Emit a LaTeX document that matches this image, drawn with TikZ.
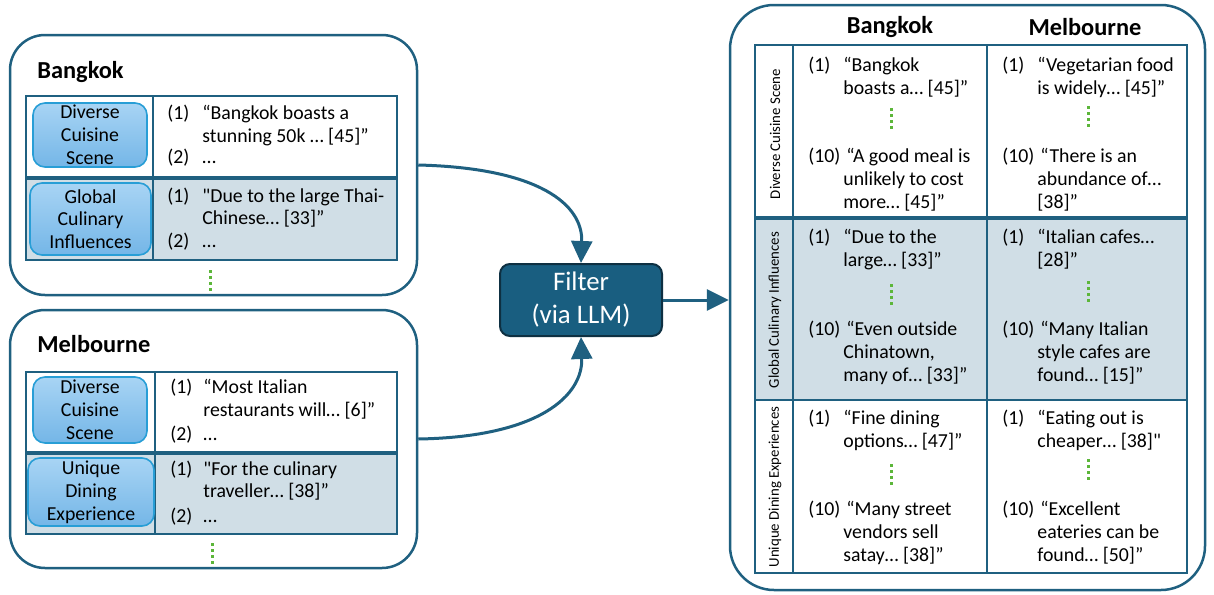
\documentclass[tikz,border=0pt]{standalone}
\usepackage{fontspec}
\setmainfont{Carlito}[Ligatures=TeXOff]
\usetikzlibrary{arrows.meta}

\definecolor{frame}{RGB}{31,96,128}
\definecolor{rowfill}{RGB}{208,222,230}
\definecolor{tagtop}{RGB}{168,212,244}
\definecolor{tagbot}{RGB}{116,182,231}
\definecolor{tagline}{RGB}{40,158,214}
\definecolor{dotgreen}{RGB}{92,182,58}
\definecolor{filterfill}{RGB}{25,94,128}
\definecolor{filterline}{RGB}{14,48,66}

\newcommand\txtsize{\fontsize{9.9}{11.4}\selectfont}

\tikzset{
  cityframe/.style={draw=frame,line width=1.25pt,rounded corners=17.5pt,inner sep=0pt},
  cityname/.style={font=\fontsize{12.2}{14}\selectfont\bfseries,inner sep=0pt},
  tabline/.style={draw=frame,line width=1pt},
  tag/.style={draw=tagline,line width=0.8pt,rounded corners=6pt,top color=tagtop,bottom color=tagbot,align=center,font=\txtsize,inner sep=0pt},
  entry/.style={anchor=north west,inner sep=0pt,align=left,font=\txtsize},
  vdots/.style={draw=dotgreen,line width=1.5pt,dash pattern=on 1.5pt off 1.5pt},
  sidelabel/.style={rotate=90,font=\fontsize{7.4}{9}\selectfont,inner sep=0pt},
  flow/.style={draw=frame,line width=1.5pt,-{Triangle[length=11pt,width=10.5pt]}},
}

\begin{document}
\begin{tikzpicture}[x=0.5pt,y=-0.5pt]
    \useasboundingbox (0,0) rectangle (1214,594);

    % Bangkok
    \node[cityframe,minimum width=203.5pt,minimum height=130pt] (bkk) at (213.5,165) {};
    \node[cityname,anchor=west] (bkkname) at (37,72) {Bangkok};
    \fill[rowfill] (26,178) rectangle (397,260);
    \draw[tabline] (26,96) rectangle (397,260);
    \draw[tabline] (153,96) -- (153,260);
    \draw[tabline,line width=2pt] (26,178) -- (397,178);
    \node[tag,minimum width=57pt,minimum height=32pt] (bkkdiv) at (90,135) {Diverse\\Cuisine\\Scene};
    \node[tag,minimum width=60.5pt,minimum height=36pt] (bkkglob) at (90.5,219) {Global\\Culinary\\Influences};
    \node[entry] (bkkdivn) at (167,105) {(1)};
    \node[entry] (bkkdivq) at (202,105) {“Bangkok boasts a\\stunning 50k … [45]”};
    \node[entry] (bkkdivm) at (167,149) {(2)};
    \node[entry] (bkkdivr) at (202,149) {\vphantom{(}…};
    \node[entry] (bkkglobn) at (167,188) {(1)};
    \node[entry] (bkkglobq) at (202,188) {"Due to the large Thai-\\Chinese… [33]”};
    \node[entry] (bkkglobm) at (167,233) {(2)};
    \node[entry] (bkkglobr) at (202,233) {\vphantom{(}…};
    \draw[vdots] (210,270) -- (210,291);

    % Melbourne
    \node[cityframe,minimum width=203.5pt,minimum height=129pt] (mel) at (213.5,439) {};
    \node[cityname,anchor=west] (melname) at (37,344) {Melbourne};
    \fill[rowfill] (26,453) rectangle (397,534);
    \draw[tabline] (26,372) rectangle (397,534);
    \draw[tabline] (155,372) -- (155,534);
    \draw[tabline,line width=2pt] (26,453) -- (397,453);
    \node[tag,minimum width=57pt,minimum height=33pt] (meldiv) at (90,410) {Diverse\\Cuisine\\Scene};
    \node[tag,minimum width=63pt,minimum height=34pt] (meluniq) at (91,492) {Unique\\Dining\\Experience};
    \node[entry] (meldivn) at (170,379) {(1)};
    \node[entry] (meldivq) at (203,379) {“Most Italian\\restaurants will… [6]”};
    \node[entry] (meldivm) at (170,426) {(2)};
    \node[entry] (meldivr) at (203,426) {\vphantom{(}…};
    \node[entry] (meluniqn) at (170,461) {(1)};
    \node[entry] (meluniqq) at (203,461) {"For the culinary\\traveller… [38]”};
    \node[entry] (meluniqm) at (170,508) {(2)};
    \node[entry] (meluniqr) at (203,508) {\vphantom{(}…};
    \draw[vdots] (212,543) -- (212,564);

    % Filter
    \node[fill=filterfill,draw=filterline,line width=1pt,rounded corners=5pt,minimum width=81pt,minimum height=36pt,
          text=white,align=center,font=\fontsize{13.4}{16.5}\selectfont] (filter) at (581,300) {Filter\\(via LLM)};

    \draw[flow] (bkk.east) .. controls (540,168) and (583,205) .. (filter.north);
    \draw[flow] (mel.east) .. controls (540,437) and (583,395) .. (filter.south);

    % Ergebnis
    \node[cityframe,rounded corners=22pt,minimum width=237.5pt,minimum height=292.5pt] (res) at (967.5,297.5) {};
    \draw[flow] (filter.east) -- (filter.east -| res.west);

    \node[cityname] (colbkk) at (890,27) {Bangkok};
    \node[cityname] (colmel) at (1085,27) {Melbourne};
    \fill[rowfill] (755,218) rectangle (1187,400);
    \draw[tabline] (755,45) rectangle (1187,573);
    \draw[tabline] (793,45) -- (793,573);
    \draw[tabline] (987,45) -- (987,573);
    \draw[tabline,line width=2pt] (755,218) -- (1187,218);
    \draw[tabline] (755,400) -- (1187,400);

    \node[sidelabel] (rowdiv) at (775,134) {Diverse Cuisine Scene};
    \node[sidelabel] (rowglob) at (775,310) {Global Culinary Influences};
    \node[sidelabel] (rowuniq) at (775,487) {Unique Dining Experiences};

    % Diverse Cuisine Scene
    \node[entry] (a1n) at (808,57) {(1)};
    \node[entry] (a1q) at (843,57) {“Bangkok\\boasts a… [45]”};
    \node[entry] (a10n) at (808,148) {(10)};
    \node[entry] (a10q) at (843,148) {\hspace{1.5pt}“A good meal is\\unlikely to cost\\more… [45]”};
    \draw[vdots] (891,108) -- (891,129);
    \node[entry] (b1n) at (1002,57) {(1)};
    \node[entry] (b1q) at (1037,57) {“Vegetarian food\\is widely… [45]”};
    \node[entry] (b10n) at (1002,148) {(10)};
    \node[entry] (b10q) at (1037,148) {\hspace{1.5pt}“There is an\\abundance of…\\{[38]}”};
    \draw[vdots] (1088,106) -- (1088,127);

    % Global Culinary Influences
    \node[entry] (c1n) at (808,229) {(1)};
    \node[entry] (c1q) at (843,229) {“Due to the\\large… [33]”};
    \node[entry] (c10n) at (808,321) {(10)};
    \node[entry] (c10q) at (843,321) {\hspace{1.5pt}“Even outside\\Chinatown,\\many of… [33]”};
    \draw[vdots] (891,284) -- (891,305);
    \node[entry] (d1n) at (1002,229) {(1)};
    \node[entry] (d1q) at (1037,229) {“Italian cafes…\\{[28]}”};
    \node[entry] (d10n) at (1002,321) {(10)};
    \node[entry] (d10q) at (1037,321) {\hspace{1.5pt}“Many Italian\\style cafes are\\found… [15]”};
    \draw[vdots] (1088,281) -- (1088,302);

    % Unique Dining Experiences
    \node[entry] (e1n) at (808,410) {(1)};
    \node[entry] (e1q) at (843,410) {“Fine dining\\options… [47]”};
    \node[entry] (e10n) at (808,501) {(10)};
    \node[entry] (e10q) at (843,501) {\hspace{1.5pt}“Many street\\vendors sell\\satay… [38]”};
    \draw[vdots] (891,464) -- (891,485);
    \node[entry] (f1n) at (1002,410) {(1)};
    \node[entry] (f1q) at (1037,410) {“Eating out is\\cheaper… [38]"};
    \node[entry] (f10n) at (1002,501) {(10)};
    \node[entry] (f10q) at (1037,501) {\hspace{1.5pt}“Excellent\\eateries can be\\found… [50]”};
    \draw[vdots] (1088,459) -- (1088,480);
\end{tikzpicture}
\end{document}
